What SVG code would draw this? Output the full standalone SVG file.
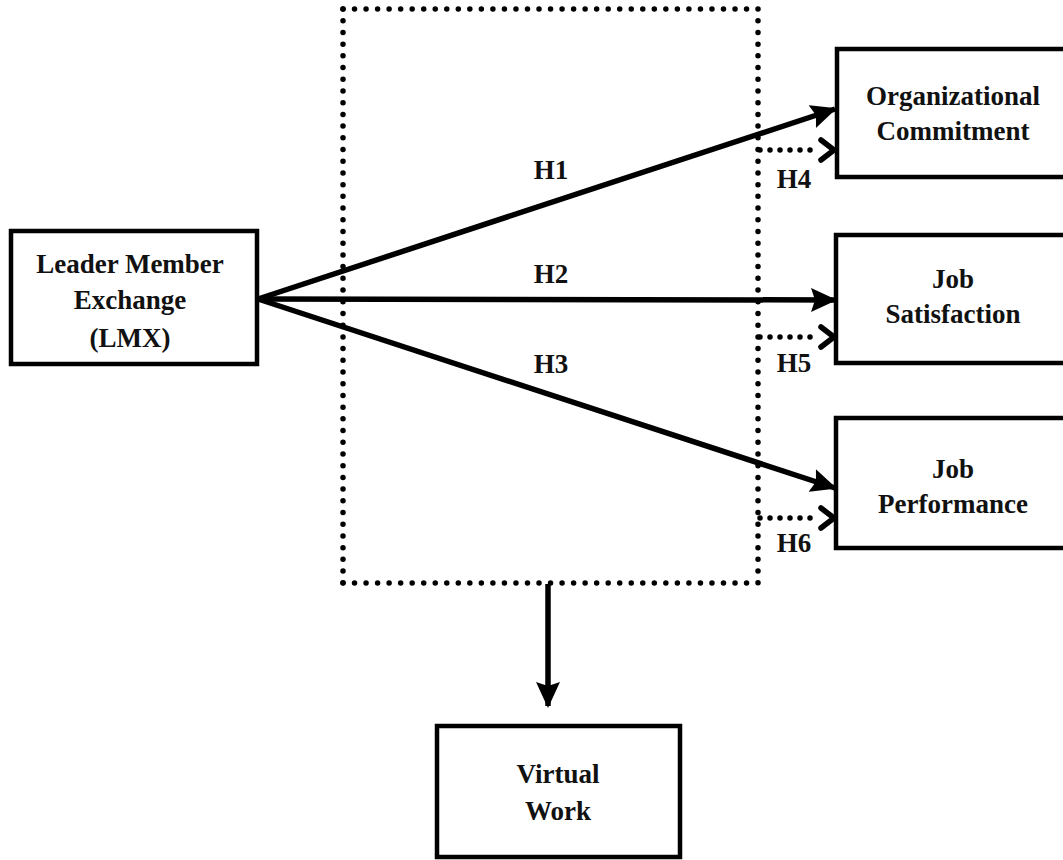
<svg xmlns="http://www.w3.org/2000/svg" width="1063" height="860" viewBox="0 0 1063 860">
<style>
.box{fill:#fff;stroke:#000;stroke-width:4.5}
.t{font-family:"Liberation Serif","Times New Roman",serif;font-weight:bold;font-size:27px;fill:#111;text-anchor:middle}
.solid{stroke:#000;stroke-width:5.5;fill:none}
.dots{stroke:#000;stroke-width:5.5;stroke-linecap:round;fill:none}
.chev{stroke:#000;stroke-width:5.5;fill:none;stroke-linecap:round;stroke-linejoin:miter}
</style>
<defs>
<marker id="ah" markerUnits="userSpaceOnUse" markerWidth="26" markerHeight="24" viewBox="0 0 26 24" refX="24" refY="12" orient="auto">
<path d="M0,0 L26,12 L0,24 L4,12 Z" fill="#000"/>
</marker>
</defs>
<rect width="1063" height="860" fill="#fff"/>
<g id="moderator-frame">
<path class="dots" d="M343,9 H758" stroke-dasharray="0 11.53"/>
<path class="dots" d="M343,583 H758" stroke-dasharray="0 11.53"/>
<path class="dots" d="M343,9 V583" stroke-dasharray="0 11.71"/>
<path class="dots" d="M758,9 V583" stroke-dasharray="0 11.71"/>
</g>
<g id="connectors">
<line class="solid" x1="258" y1="299" x2="835" y2="109" marker-end="url(#ah)"/>
<line class="solid" x1="258" y1="299" x2="835" y2="300" marker-end="url(#ah)"/>
<line class="solid" x1="258" y1="299" x2="835" y2="488" marker-end="url(#ah)"/>
<line class="solid" x1="548" y1="584" x2="548" y2="706" marker-end="url(#ah)"/>
<path class="dots" d="M760,150 H820" stroke-dasharray="0 10"/>
<path class="chev" d="M821,140 L834,150 L821,160"/>
<path class="dots" d="M760,337 H820" stroke-dasharray="0 10"/>
<path class="chev" d="M821,327 L834,337 L821,347"/>
<path class="dots" d="M760,518 H820" stroke-dasharray="0 10"/>
<path class="chev" d="M821,508 L834,518 L821,528"/>
<text class="t" x="551" y="179">H1</text>
<text class="t" x="551" y="283">H2</text>
<text class="t" x="551" y="373">H3</text>
<text class="t" x="794" y="188">H4</text>
<text class="t" x="794" y="372">H5</text>
<text class="t" x="794" y="552">H6</text>
</g>
<g id="lmx">
<rect class="box" x="11" y="231" width="246" height="133"/>
<text class="t" x="130" y="273">Leader Member</text>
<text class="t" x="130" y="309">Exchange</text>
<text class="t" x="130" y="347">(LMX)</text>
</g>
<g id="organizational-commitment">
<rect class="box" x="837" y="49" width="240" height="128"/>
<text class="t" x="953" y="105">Organizational</text>
<text class="t" x="953" y="140">Commitment</text>
</g>
<g id="job-satisfaction">
<rect class="box" x="836" y="235" width="240" height="128"/>
<text class="t" x="953" y="288">Job</text>
<text class="t" x="953" y="323">Satisfaction</text>
</g>
<g id="job-performance">
<rect class="box" x="836" y="418" width="240" height="130"/>
<text class="t" x="953" y="478">Job</text>
<text class="t" x="953" y="513">Performance</text>
</g>
<g id="virtual-work">
<rect class="box" x="437" y="726" width="243" height="131"/>
<text class="t" x="558" y="783">Virtual</text>
<text class="t" x="558" y="820">Work</text>
</g>
</svg>
